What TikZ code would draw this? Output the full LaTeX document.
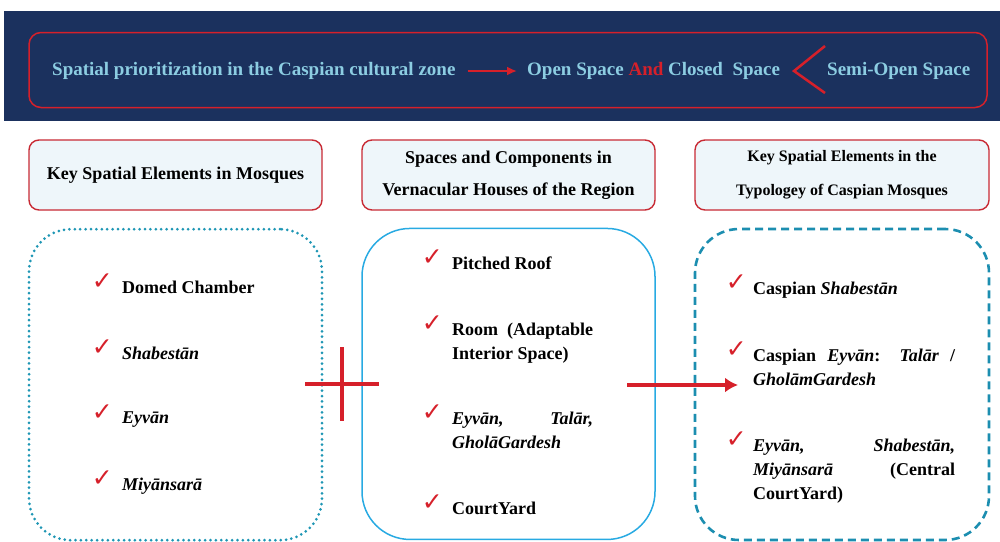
\documentclass[tikz,border=0pt]{standalone}
\usepackage{fontspec}
\setmainfont{Liberation Serif}
\newfontfamily\symfont{DejaVu Sans}
\usetikzlibrary{positioning,arrows.meta}
\definecolor{navy}{RGB}{27,49,94}
\definecolor{skytext}{RGB}{140,205,226}
\definecolor{mainred}{RGB}{214,32,42}
\definecolor{boxred}{RGB}{200,42,52}
\definecolor{headfill}{RGB}{238,246,250}
\definecolor{dotteal}{RGB}{30,150,180}
\definecolor{lineblue}{RGB}{40,170,226}
\definecolor{dashteal}{RGB}{28,142,176}

\begin{document}
\begin{tikzpicture}[x=1pt, y=-1pt, node distance = 17pt, auto]
    \tikzset{>=latex}
    \useasboundingbox (0,0) rectangle (1000,541);
    % Styles
    \tikzstyle{banner}  = [rectangle, rounded corners=12pt, minimum width=958pt, minimum height=75pt, draw=mainred, line width=1.5pt]
    \tikzstyle{bantext} = [inner sep=0pt, anchor=west, text=skytext, font=\bfseries\fontsize{19}{22}\selectfont]
    \tikzstyle{head}    = [rectangle, rounded corners=10pt, minimum width=293pt, minimum height=70pt, align=center, draw=boxred, line width=1.4pt, fill=headfill, font=\bfseries\fontsize{18}{32}\selectfont]
    \tikzstyle{dotbox}  = [rectangle, rounded corners=42pt, minimum width=293pt, minimum height=311pt, draw=dotteal, line width=3pt, line cap=round, dash pattern=on 0pt off 5.4pt]
    \tikzstyle{linebox} = [rectangle, rounded corners=48pt, minimum width=293pt, minimum height=311pt, draw=lineblue, line width=1.5pt]
    \tikzstyle{dashbox} = [rectangle, rounded corners=44pt, minimum width=294pt, minimum height=311pt, draw=dashteal, line width=2.6pt, dash pattern=on 8pt off 5pt]
    \tikzstyle{entry}   = [anchor=north west, inner sep=0pt, font=\bfseries\fontsize{18}{24}\selectfont]
    \tikzstyle{okmark}  = [anchor=south east, inner sep=0pt, text=mainred, font=\symfont\fontsize{25}{28}\selectfont]
    \tikzstyle{arrow}   = [mainred, line width=4pt, -{Latex[length=13pt,width=15pt]}]
    \tikzstyle{cross}   = [mainred, line width=4pt]

    % Top band
    \fill[navy] (4,11) rectangle (1000,121);
    \node[banner] (band) at (508,70) {};
    \node[bantext] (zone) at (52,71) {Spatial prioritization in the Caspian cultural zone};
    \node[bantext] (open) at (527,71) {Open Space \textcolor{mainred}{And} Closed~~Space};
    \node[bantext] (semi) at (827,71) {Semi-Open Space};
    \draw[mainred, line width=2.5pt, -{Latex[length=10pt,width=9pt]}] ([xshift=12pt]zone.east) -- ([xshift=-10pt]open.west);
    \draw[mainred, line width=2.5pt] ([xshift=-2pt, yshift=25pt]semi.west) -- ([xshift=-33pt]semi.west) -- ([xshift=-2pt, yshift=-22pt]semi.west);

    % Headers
    \node[head] (hmosq) at (175.5,175) {Key Spatial Elements in Mosques};
    \node[head] (hhouse) at (508.5,175) {Spaces and Components in\\Vernacular Houses of the Region};
    \node[head, minimum width=294pt, font=\bfseries\fontsize{16}{34}\selectfont] (htype) at (842,175) {Key Spatial Elements in the\\Typologey of Caspian Mosques};

    % Boxes
    \node[dotbox, below = of hmosq] (mosq) {};
    \node[linebox, below = of hhouse] (house) {};
    \node[dashbox, below = of htype] (type) {};

    % Mosque elements
    \node[entry] (m1) at (122,281) {Domed Chamber};
    \node[entry] (m2) at (122,347) {\textit{Shabestān}};
    \node[entry] (m3) at (122,412) {\textit{Eyvān}};
    \node[entry] (m4) at (122,478) {\textit{Miyānsarā}};
    \node[okmark] (k1) at ([xshift=-9pt, yshift=-9pt]m1.north west) {✓};
    \node[okmark] (k2) at ([xshift=-9pt, yshift=-9pt]m2.north west) {✓};
    \node[okmark] (k3) at ([xshift=-9pt, yshift=-9pt]m3.north west) {✓};
    \node[okmark] (k4) at ([xshift=-9pt, yshift=-9pt]m4.north west) {✓};

    % House elements
    \node[entry, text width=141pt, align=justify] (h1) at (452,257) {Pitched Roof};
    \node[entry, text width=141pt, align=justify] (h2) at (452,323) {Room (Adaptable Interior Space)};
    \node[entry, text width=141pt, align=justify] (h3) at (452,412) {\textit{Eyvān,} \textit{Talār,}\linebreak \textit{GholāGardesh}};
    \node[entry, text width=141pt, align=justify] (h4) at (452,502) {CourtYard};
    \node[okmark] (l1) at ([xshift=-9pt, yshift=-9pt]h1.north west) {✓};
    \node[okmark] (l2) at ([xshift=-9pt, yshift=-9pt]h2.north west) {✓};
    \node[okmark] (l3) at ([xshift=-9pt, yshift=-9pt]h3.north west) {✓};
    \node[okmark] (l4) at ([xshift=-9pt, yshift=-9pt]h4.north west) {✓};

    % Caspian mosque elements
    \node[entry, text width=202pt, align=justify] (t1) at (753,282) {Caspian \textit{Shabestān}};
    \node[entry, text width=202pt, align=justify] (t2) at (753,349) {Caspian \textit{Eyvān}: \textit{Talār} /\linebreak \textit{GholāmGardesh}};
    \node[entry, text width=202pt, align=justify] (t3) at (753,439) {\textit{Eyvān,} \textit{Shabestān,}\linebreak \textit{Miyānsarā} (Central\linebreak CourtYard)};
    \node[okmark] (n1) at ([xshift=-6pt, yshift=-9pt]t1.north west) {✓};
    \node[okmark] (n2) at ([xshift=-6pt, yshift=-9pt]t2.north west) {✓};
    \node[okmark] (n3) at ([xshift=-6pt, yshift=-9pt]t3.north west) {✓};

    % Plus and arrow
    \coordinate (plus) at (342,384);
    \draw[cross] ([yshift=37pt]plus) -- ([yshift=-37pt]plus);
    \draw[cross] ([xshift=-37pt]plus) -- ([xshift=37pt]plus);
    \coordinate (from) at (627,385);
    \coordinate (to) at (738,385);
    \draw[arrow] (from) -- (to);
\end{tikzpicture}
\end{document}
